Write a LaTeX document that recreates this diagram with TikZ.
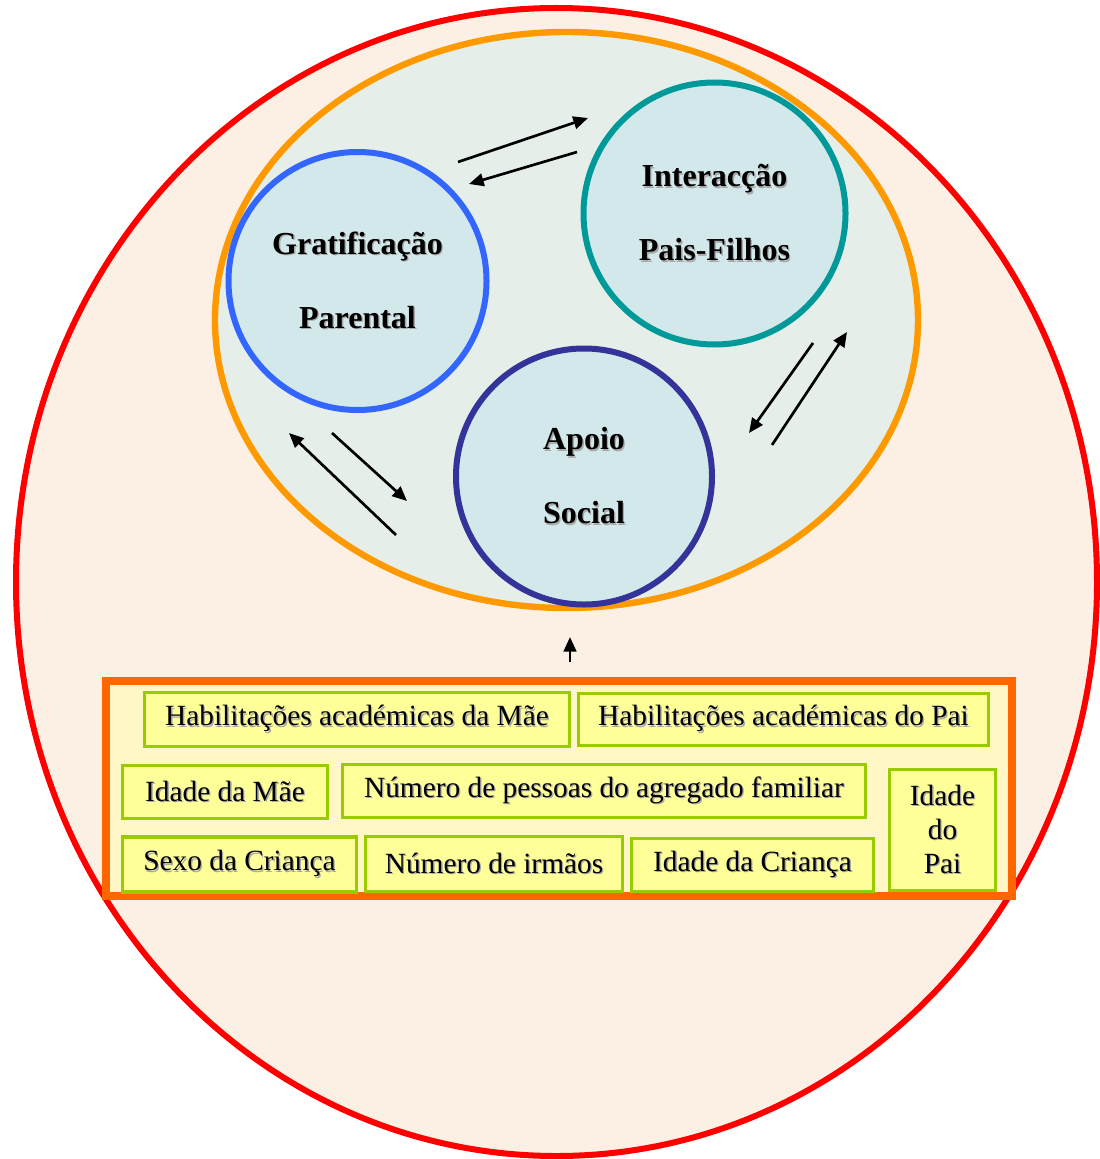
\documentclass[tikz,border=0pt]{standalone}
\usepackage{fontspec}
\setmainfont{Liberation Serif}
\usetikzlibrary{arrows.meta,shapes.geometric}
\definecolor{redline}{HTML}{FF0000}
\definecolor{peach}{HTML}{FCF0E4}
\definecolor{orangeline}{HTML}{FF9900}
\definecolor{ovalfill}{HTML}{E6EEEA}
\definecolor{circfill}{HTML}{D2E8EA}
\definecolor{gratblue}{HTML}{3366FF}
\definecolor{teal}{HTML}{009999}
\definecolor{apoioblue}{HTML}{333399}
\definecolor{boxorange}{HTML}{FF6600}
\definecolor{boxbg}{HTML}{FFF8C6}
\definecolor{itemfill}{HTML}{FFFF99}
\definecolor{itemline}{HTML}{99CC00}
\definecolor{shadowgray}{HTML}{A8A8A8}
\newcommand\shd[1]{\leavevmode\rlap{\kern1pt\raisebox{-1pt}{\textcolor{shadowgray}{#1}}}#1}
\tikzset{
  concept/.style={circle, draw, line width=4.5pt, fill=circfill, inner sep=0pt,
    align=center, font=\fontsize{24}{55.5}\selectfont\bfseries},
  item/.style={rectangle, draw=itemline, fill=itemfill, line width=2.5pt, inner sep=0pt,
    align=center, font=\fontsize{22}{25.5}\selectfont},
  rel/.style={line width=2pt, -{Triangle[length=11pt,width=9.5pt]}},
}
\begin{document}
\begin{tikzpicture}[x=0.75pt,y=-0.75pt]
\useasboundingbox (0,0) rectangle (1099,1159);
\fill[white] (0,0) rectangle (1099,1159);
% outer circle
\node[ellipse, draw=redline, fill=peach, line width=4.5pt, inner sep=0pt,
  minimum width=810.75pt, minimum height=861pt] (outer) at (556.5,582) {};
% orange ellipse
\node[ellipse, draw=orangeline, fill=ovalfill, line width=4.8pt, inner sep=0pt,
  minimum width=527.25pt, minimum height=432pt] (oval) at (566.5,320) {};
% concept circles
\node[concept, draw=gratblue, minimum size=193.5pt] (grat) at (357.5,281) {\shd{Gratificação}\\\shd{Parental}};
\node[concept, draw=teal, minimum size=196.5pt] (inter) at (714.5,213.5) {\shd{Interacção}\\\shd{Pais-Filhos}};
\node[concept, draw=apoioblue, minimum size=192pt] (apoio) at (584,476.5) {\shd{Apoio}\\\shd{Social}};
% arrow end points
\coordinate (a1s) at (458,162); \coordinate (a1e) at (588,118);
\coordinate (a2s) at (577,152); \coordinate (a2e) at (469,184);
\coordinate (a3s) at (396,535); \coordinate (a3e) at (289,433);
\coordinate (a4s) at (332,433); \coordinate (a4e) at (407,501);
\coordinate (a5s) at (813,343); \coordinate (a5e) at (749,433);
\coordinate (a6s) at (772,445); \coordinate (a6e) at (847,332);
\draw[rel] (a1s) -- (a1e);
\draw[rel] (a2s) -- (a2e);
\draw[rel] (a3s) -- (a3e);
\draw[rel] (a4s) -- (a4e);
\draw[rel] (a5s) -- (a5e);
\draw[rel] (a6s) -- (a6e);
% factors box
\node[rectangle, draw=boxorange, fill=boxbg, line width=6pt, inner sep=0pt,
  minimum width=679.5pt, minimum height=161.25pt] (factors) at (559,788.5) {};
\coordinate (up) at (570,662);
\coordinate (upe) at (570,637);
\draw[rel] (up) -- (upe);
\node[item, minimum width=318.75pt, minimum height=40.5pt] (habM) at (357,719.5) {\shd{Habilitações académicas da Mãe}};
\node[item, minimum width=307.5pt, minimum height=39pt] (habP) at (783.5,719.5) {\shd{Habilitações académicas do Pai}};
\node[item, minimum width=153.75pt, minimum height=39.75pt] (idM) at (225,792) {\shd{Idade da Mãe}};
\node[item, minimum width=392.25pt, minimum height=39.75pt] (num) at (604,791) {\shd{Número de pessoas do agregado familiar}};
\node[item, minimum width=175.5pt, minimum height=41.25pt] (sexo) at (239.5,864.5) {\shd{Sexo da Criança}};
\node[item, minimum width=192.75pt, minimum height=41.25pt] (irm) at (494,864) {\shd{Número de irmãos}};
\node[item, minimum width=181.5pt, minimum height=39.75pt] (idC) at (752.5,865) {\shd{Idade da Criança}};
\node[item, minimum width=79.5pt, minimum height=90.75pt] (idP) at (942.5,830) {\shd{Idade}\\\shd{do}\\\shd{Pai}};
\end{tikzpicture}
\end{document}
